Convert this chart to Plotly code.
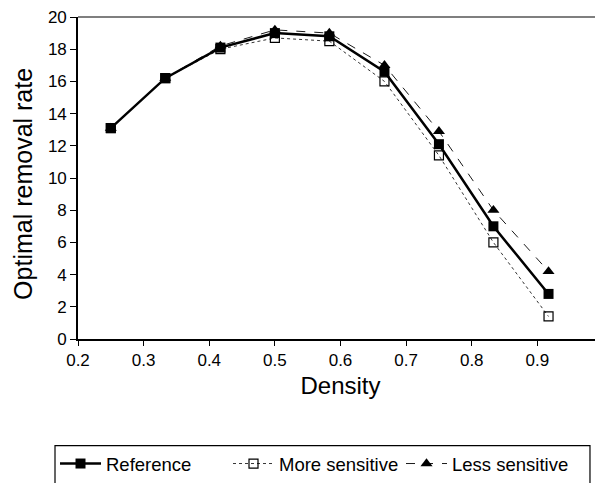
import plotly.graph_objects as go

density = [0.25, 0.333, 0.417, 0.5, 0.583, 0.667, 0.75, 0.833, 0.917]
reference = [13.1, 16.2, 18.1, 19.0, 18.8, 16.6, 12.1, 7.0, 2.8]
more_sensitive = [13.1, 16.2, 18.0, 18.7, 18.5, 16.0, 11.4, 6.0, 1.4]
less_sensitive = [13.1, 16.2, 18.2, 19.2, 19.0, 17.0, 12.9, 8.0, 4.2]
x_ticks = [0.2, 0.3, 0.4, 0.5, 0.6, 0.7, 0.8, 0.9, 1.0]
y_ticks = [0, 2, 4, 6, 8, 10, 12, 14, 16, 18, 20]

font = "Liberation Sans, Arial, sans-serif"

fig = go.Figure()
fig.add_trace(go.Scatter(
    x=density, y=reference, name="Reference", mode="lines+markers",
    line=dict(color="black", width=2.5),
    marker=dict(symbol="square", size=10, color="black"),
))
fig.add_trace(go.Scatter(
    x=density, y=more_sensitive, name="More sensitive", mode="lines+markers",
    line=dict(color="black", width=0.8, dash="dot"),
    marker=dict(symbol="square-open", size=9, color="black", line=dict(width=1.2)),
))
fig.add_trace(go.Scatter(
    x=density, y=less_sensitive, name="Less sensitive", mode="lines+markers",
    line=dict(color="black", width=0.9, dash="dash"),
    marker=dict(symbol="triangle-up", size=10.5, color="black"),
))

fig.update_layout(
    width=595, height=475,
    margin=dict(l=70, r=0, t=7, b=142),
    plot_bgcolor="white", paper_bgcolor="white",
    font=dict(family=font, size=17, color="black"),
    showlegend=True,
    legend=dict(
        orientation="h", x=-0.0438, xanchor="left", y=-0.331, yanchor="top",
        borderwidth=0, font=dict(size=18.5),
        entrywidth=117, itemwidth=41, bgcolor="rgba(0,0,0,0)",
    ),
    xaxis=dict(
        range=[0.2, 1.0], tickvals=x_ticks, ticktext=[f"{v:.1f}" for v in x_ticks],
        showline=True, linecolor="black", linewidth=1.6, ticks="outside",
        ticklen=5, tickcolor="black", showgrid=False, zeroline=False,
        title=dict(text="Density", font=dict(size=24), standoff=8),
    ),
    yaxis=dict(
        range=[0, 20], tickvals=y_ticks, ticklabeloverflow="allow",
        showline=True, linecolor="black", linewidth=1.6, ticks="outside",
        ticklen=6, tickcolor="black", showgrid=False, zeroline=False,
    ),
    annotations=[
        dict(text="Optimal removal rate", textangle=-90, showarrow=False,
             xref="paper", yref="paper", x=-0.1048, y=0.4816,
             xanchor="center", yanchor="middle", font=dict(size=25),
             borderpad=0),
    ],
    shapes=[
        dict(type="line", xref="paper", yref="paper", x0=0, x1=1, y0=1, y1=1,
             line=dict(color="black", width=1.2)),
        dict(type="rect", xref="paper", yref="paper",
             x0=-0.0438, x1=0.9752, y0=-0.331, y1=-0.5,
             line=dict(color="black", width=1.2)),
    ],
)

fig.write_html("out.html")
